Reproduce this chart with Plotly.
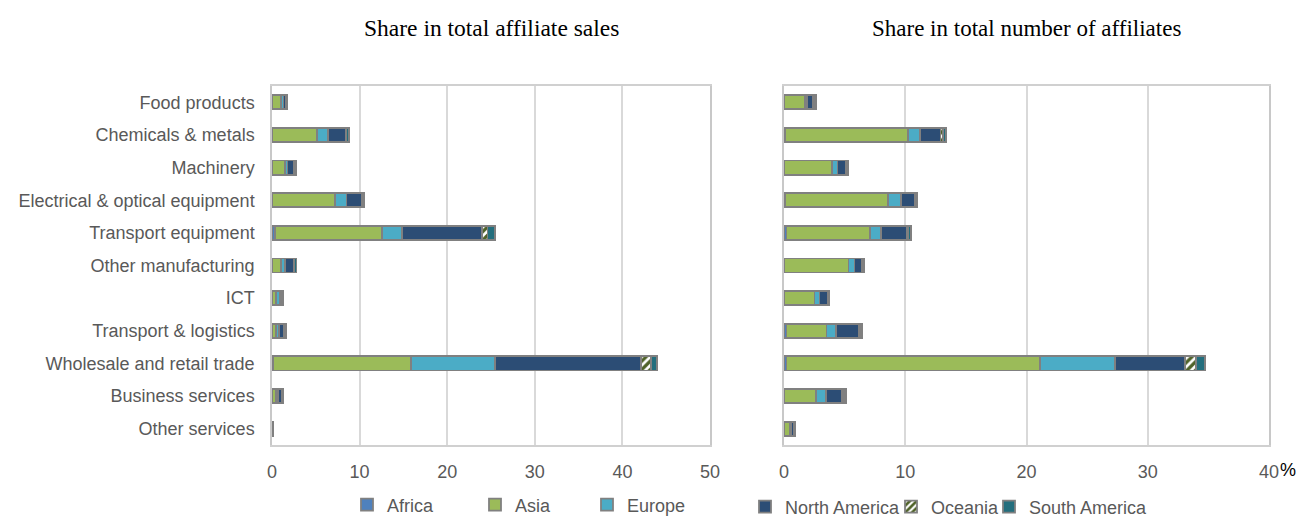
import plotly.graph_objects as go

categories = ["Food products", "Chemicals & metals", "Machinery",
              "Electrical & optical equipment", "Transport equipment",
              "Other manufacturing", "ICT", "Transport & logistics",
              "Wholesale and retail trade", "Business services", "Other services"]

regions = ["Africa", "Asia", "Europe", "North America", "Oceania", "South America"]

# Share in total affiliate sales (%)
sales_africa = [0.02, 0.05, 0.02, 0.05, 0.35, 0.02, 0.02, 0.05, 0.08, 0.03, 0.01]
sales_asia = [1.0, 5.05, 1.45, 7.15, 12.25, 1.05, 0.4, 0.45, 15.8, 0.45, 0.05]
sales_europe = [0.3, 1.3, 0.3, 1.3, 2.25, 0.4, 0.45, 0.3, 9.55, 0.25, 0.03]
sales_namerica = [0.3, 2.0, 0.75, 1.8, 9.15, 1.0, 0.15, 0.6, 16.7, 0.35, 0.05]
sales_oceania = [0.05, 0.1, 0.03, 0.05, 0.6, 0.03, 0.02, 0.02, 1.15, 0.02, 0.01]
sales_samerica = [0.1, 0.3, 0.15, 0.2, 0.85, 0.3, 0.2, 0.15, 0.65, 0.15, 0.02]

# Share in total number of affiliates (%)
aff_africa = [0.02, 0.05, 0.02, 0.05, 0.2, 0.02, 0.02, 0.2, 0.2, 0.03, 0.01]
aff_asia = [1.7, 10.15, 3.95, 8.55, 6.9, 5.3, 2.5, 3.3, 20.9, 2.6, 0.5]
aff_europe = [0.2, 1.0, 0.45, 1.05, 0.9, 0.5, 0.4, 0.8, 6.2, 0.85, 0.1]
aff_namerica = [0.5, 1.7, 0.7, 1.15, 2.15, 0.6, 0.7, 1.9, 5.8, 1.3, 0.2]
aff_oceania = [0.05, 0.2, 0.05, 0.05, 0.05, 0.05, 0.03, 0.05, 0.9, 0.15, 0.02]
aff_samerica = [0.15, 0.25, 0.15, 0.15, 0.3, 0.15, 0.1, 0.15, 0.75, 0.2, 0.1]

left_ticks = [0, 10, 20, 30, 40, 50]
right_ticks = [0, 10, 20, 30, 40]

sales = [sales_africa, sales_asia, sales_europe, sales_namerica, sales_oceania, sales_samerica]
affs = [aff_africa, aff_asia, aff_europe, aff_namerica, aff_oceania, aff_samerica]

colors = ["#4F81BD", "#9BBB59", "#4BACC6", "#2C4D75", "#4F6228", "#236E7D"]
outline = "#808080"

W, H = 1300, 518
def px_x(p):
    return p / W
def px_y(p):
    return 1 - p / H

fig = go.Figure()

legend_ids = ["legend", "legend2", "legend3", "legend4", "legend5", "legend6"]
legend_on_left = [True, True, True, False, False, False]

for i, reg in enumerate(regions):
    if reg == "Oceania":
        marker = dict(color="white",
                      pattern=dict(shape="/", fgcolor=colors[i], bgcolor="white",
                                   size=6, solidity=0.55, fillmode="replace"),
                      line=dict(color=outline, width=1.8))
    else:
        marker = dict(color=colors[i], line=dict(color=outline, width=1.8))
    for side, vals, xa, ya in [("L", sales[i], "x", "y"), ("R", affs[i], "x2", "y2")]:
        show = (side == "L") == legend_on_left[i]
        fig.add_trace(go.Bar(
            y=categories, x=vals, orientation="h", name=reg,
            marker=marker, xaxis=xa, yaxis=ya,
            showlegend=show, legend=legend_ids[i],
            hovertemplate=reg + ": %{x}<extra></extra>"))

ydom = [px_y(445), px_y(86)]
tick_font = dict(family="Liberation Sans, Arial", size=18, color="#595959")
axis_common = dict(showgrid=True, gridcolor="#d9d9d9", gridwidth=1.5,
                   zeroline=False, showline=True, linecolor="#d0d0d0",
                   linewidth=1.5, mirror=True, ticks="", automargin=False,
                   tickfont=tick_font, ticklabelstandoff=10)
yaxis_common = dict(categoryorder="array", categoryarray=categories,
                    autorange="reversed", showgrid=False, zeroline=False,
                    showline=True, linecolor="#c8c8c8", linewidth=1.5,
                    mirror=True, ticks="", automargin=False, tickfont=tick_font)

fig.update_layout(
    width=W, height=H,
    margin=dict(l=0, r=0, t=0, b=0, autoexpand=False),
    paper_bgcolor="white", plot_bgcolor="white",
    barmode="stack", bargap=0.57,
    xaxis=dict(domain=[px_x(272), px_x(710)], range=[0, 50], tickvals=left_ticks,
               anchor="y", **axis_common),
    xaxis2=dict(domain=[px_x(784), px_x(1269)], range=[0, 40], tickvals=right_ticks,
                anchor="y2", **axis_common),
    yaxis=dict(domain=ydom, anchor="x", ticklabelstandoff=12, **yaxis_common),
    yaxis2=dict(domain=ydom, anchor="x2", showticklabels=False, **yaxis_common),
    showlegend=True,
)

legend_font = dict(family="Liberation Sans, Arial", size=18, color="#595959")
legend_x = [347, 475, 587, 745, 891, 989]
legend_y = [505, 505, 505, 507, 507, 507]
for i, lid in enumerate(legend_ids):
    fig.update_layout({lid: dict(x=px_x(legend_x[i]), y=px_y(legend_y[i]),
                                 xanchor="left", yanchor="middle",
                                 orientation="h", font=legend_font,
                                 bgcolor="rgba(0,0,0,0)", borderwidth=0)})

title_font = dict(family="Liberation Serif, Times New Roman", size=23, color="black")
fig.add_annotation(text="Share in total affiliate sales", x=px_x(491), y=px_y(28),
                   xref="paper", yref="paper", showarrow=False,
                   font=dict(family="Liberation Serif, Times New Roman", size=23.5, color="black"),
                   xanchor="center", yanchor="middle")
fig.add_annotation(text="Share in total number of affiliates", x=px_x(1026), y=px_y(28),
                   xref="paper", yref="paper", showarrow=False, font=title_font,
                   xanchor="center", yanchor="middle")
fig.add_annotation(text="%", x=px_x(1278), y=px_y(470), xref="paper", yref="paper",
                   showarrow=False, xanchor="left", yanchor="middle",
                   font=dict(family="Liberation Sans, Arial", size=18, color="black"))

fig.write_html("out.html")
